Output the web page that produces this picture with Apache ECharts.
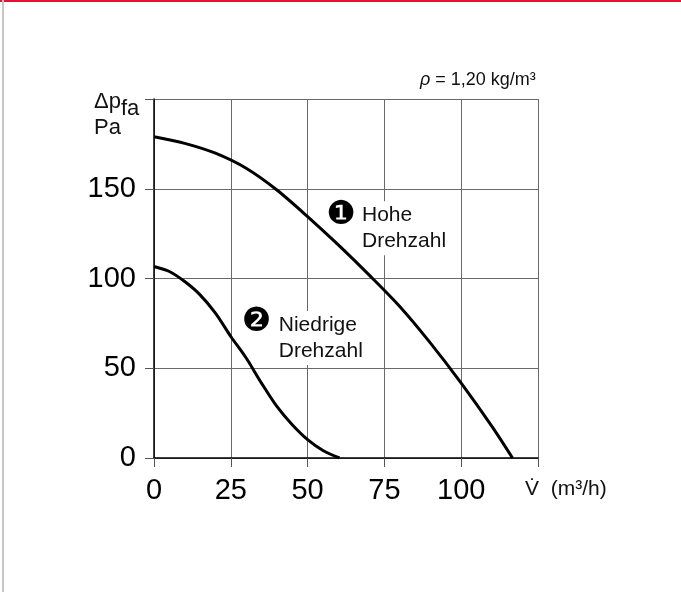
<!DOCTYPE html>
<html><head><meta charset="utf-8">
<script src="https://cdn.jsdelivr.net/npm/echarts@6/dist/echarts.min.js"></script>
<style>html,body{margin:0;padding:0;background:#fff}#c{width:681px;height:592px}</style>
</head><body><div id="c"></div>
<script>
// ---- data ----
const xTickValues = [0, 25, 50, 75, 100, 125];
const yTickValues = [0, 50, 100, 150, 200];
// curve 1: Hohe Drehzahl
const highX = [0, 10, 20, 30, 40, 50, 60, 70, 80, 90, 100, 110, 116.7];
const highY = [179, 175.3, 169.8, 161.4, 149.3, 134.5, 118.7, 102, 84.4, 64, 41.7, 17.6, 0];
// curve 2: Niedrige Drehzahl
const lowX = [0, 5, 10, 15, 20, 25, 30, 35, 40, 45, 50, 55, 60.4];
const lowY = [106.7, 103.9, 98.3, 90.9, 80.7, 67.7, 55.7, 41.7, 28.7, 18.5, 10.2, 4.2, 0];
// annotations (anchored in data space)
const noteText = ['Hohe\nDrehzahl', 'Niedrige\nDrehzahl'];
const noteAt = [[66.9, 128.0], [39.8, 66.8]];
const badgeText = ['\u2776', '\u2777'];
const badgeAt = [[61.0, 135.4], [33.4, 75.6]];
const xAxisName = 'V\u0307  (m\u00b3/h)';
const densityText = '{i|\u03c1} = 1,20 kg/m\u00b3';

const FONT = "'Liberation Sans', Arial, Helvetica, sans-serif";
const GRID = '#6a6a6a';
const INK = '#111';

function pairs(xs, ys) { return xs.map((x, i) => [x, ys[i]]); }

const chart = echarts.init(document.getElementById('c'));
chart.setOption({
  animation: false,
  backgroundColor: '#fff',
  graphic: [
    { type: 'rect', shape: { x: 0, y: 0, width: 681, height: 2 }, style: { fill: '#e3132f' }, silent: true },
    { type: 'rect', shape: { x: 2, y: 0, width: 2, height: 592 }, style: { fill: '#c8c8c8' }, silent: true }
  ],
  title: [
    { text: densityText, left: 415, top: 66,
      textStyle: { fontFamily: FONT, fontSize: 18, fontWeight: 'normal', color: INK,
        rich: { i: { fontFamily: FONT, fontSize: 18, fontStyle: 'italic', color: INK } } } },
    { text: '\u0394p', left: 89, top: 86, textStyle: { fontFamily: FONT, fontSize: 22, fontWeight: 'normal', color: INK } },
    { text: 'fa', left: 116, top: 93, textStyle: { fontFamily: FONT, fontSize: 22, fontWeight: 'normal', color: INK } },
    { text: 'Pa', left: 89, top: 112, textStyle: { fontFamily: FONT, fontSize: 22, fontWeight: 'normal', color: INK } }
  ],
  grid: { left: 154, right: 143, top: 99, bottom: 134, containLabel: false },
  xAxis: {
    type: 'value', min: 0, max: 125, interval: 25,
    name: xAxisName, nameLocation: 'end', nameGap: -13,
    nameTextStyle: { fontFamily: FONT, fontSize: 21, color: INK, verticalAlign: 'top', padding: [21, 0, 0, 0] },
    axisLine: { show: true, onZero: false, lineStyle: { color: '#000', width: 1.5 } },
    axisTick: { show: true, inside: false, length: 9, lineStyle: { color: '#555', width: 1 } },
    axisLabel: { fontFamily: FONT, fontSize: 29, color: '#000', margin: 18,
      formatter: v => (v === 125 ? '' : String(v)) },
    splitLine: { show: true, lineStyle: { color: GRID, width: 1 } }
  },
  yAxis: {
    type: 'value', min: 0, max: 200, interval: 50,
    axisLine: { show: true, lineStyle: { color: '#000', width: 1.5 } },
    axisTick: { show: true, inside: false, length: 9, lineStyle: { color: '#555', width: 1 } },
    axisLabel: { fontFamily: FONT, fontSize: 29, color: '#000', margin: 18,
      formatter: v => (v === 200 ? '' : String(v)) },
    splitLine: { show: true, lineStyle: { color: GRID, width: 1 } }
  },
  series: [
    { type: 'line', name: 'Hohe Drehzahl', data: pairs(highX, highY), smooth: 0.3, showSymbol: false,
      symbol: 'none', lineStyle: { color: '#000', width: 3 }, z: 5, silent: true },
    { type: 'line', name: 'Niedrige Drehzahl', data: pairs(lowX, lowY), smooth: 0.3, showSymbol: false,
      symbol: 'none', lineStyle: { color: '#000', width: 3 }, z: 5, silent: true },
    { type: 'scatter', silent: true, z: 6, symbolSize: 1, itemStyle: { color: 'transparent', opacity: 1 },
      data: noteAt.map((p, i) => ({ value: p, label: { formatter: noteText[i] } })),
      label: { show: true, position: 'right', distance: 0, align: 'left', opacity: 1,
        fontFamily: FONT, fontSize: 21, lineHeight: 26, color: INK,
        backgroundColor: '#fff', padding: [1, 2, 1, 2] } },
    { type: 'scatter', silent: true, z: 7, symbolSize: 1, itemStyle: { color: 'transparent', opacity: 1 },
      data: badgeAt.map((p, i) => ({ value: p, label: { formatter: badgeText[i] } })),
      label: { show: true, position: 'inside', opacity: 1, fontFamily: "'DejaVu Sans', sans-serif", fontSize: 33, color: '#000' } }
  ]
});
</script>
</body></html>
